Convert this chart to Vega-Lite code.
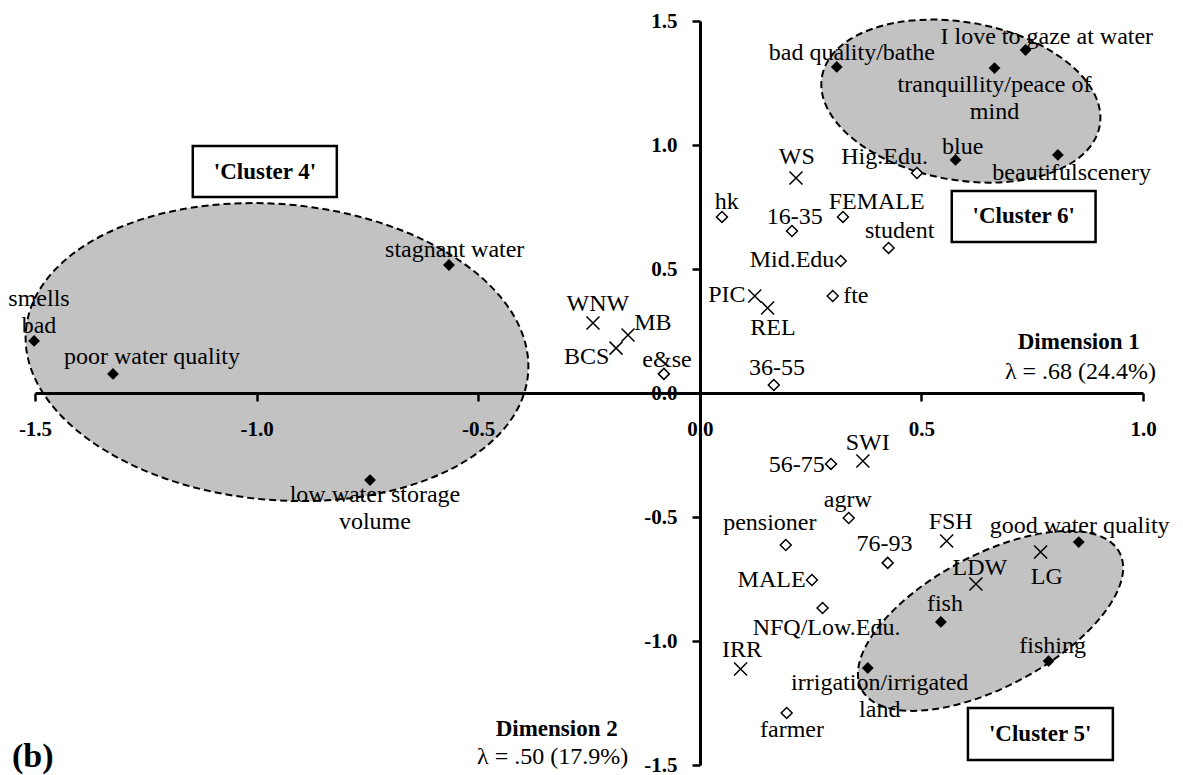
{
  "$schema": "https://vega.github.io/schema/vega-lite/v6.json",
  "width": 1108,
  "height": 744,
  "autosize": {"type": "none"},
  "padding": {"left": 35, "top": 21, "right": 40, "bottom": 10},
  "background": "white",
  "config": {"view": {"stroke": null}},
  "datasets": {
    "points": [
      {"name": "bad quality/bathe", "group": "word", "x": 0.309, "y": 1.315, "lx": 0.343, "ly": 1.371},
      {"name": "I love to gaze at water", "group": "word", "x": 0.735, "y": 1.383, "lx": 0.783, "ly": 1.435},
      {"name": "tranquillity/peace of\nmind", "group": "word", "x": 0.665, "y": 1.31, "lx": 0.665, "ly": 1.242},
      {"name": "blue", "group": "word", "x": 0.577, "y": 0.94, "lx": 0.593, "ly": 0.992},
      {"name": "beautifulscenery", "group": "word", "x": 0.808, "y": 0.96, "lx": 0.839, "ly": 0.887},
      {"name": "smells\nbad", "group": "word", "x": -1.502, "y": 0.21, "lx": -1.491, "ly": 0.379},
      {"name": "poor water quality", "group": "word", "x": -1.324, "y": 0.077, "lx": -1.236, "ly": 0.145},
      {"name": "stagnant water", "group": "word", "x": -0.566, "y": 0.516, "lx": -0.553, "ly": 0.577},
      {"name": "low water storage\nvolume", "group": "word", "x": -0.744, "y": -0.351, "lx": -0.733, "ly": -0.411},
      {"name": "good water quality", "group": "word", "x": 0.855, "y": -0.601, "lx": 0.857, "ly": -0.536},
      {"name": "fish", "group": "word", "x": 0.544, "y": -0.923, "lx": 0.553, "ly": -0.851},
      {"name": "fishing", "group": "word", "x": 0.787, "y": -1.081, "lx": 0.796, "ly": -1.02},
      {"name": "irrigation/irrigated\nland", "group": "word", "x": 0.379, "y": -1.109, "lx": 0.406, "ly": -1.169},
      {"name": "hk", "group": "respondent", "x": 0.05, "y": 0.71, "lx": 0.061, "ly": 0.77},
      {"name": "16-35", "group": "respondent", "x": 0.208, "y": 0.653, "lx": 0.214, "ly": 0.71},
      {"name": "FEMALE", "group": "respondent", "x": 0.323, "y": 0.71, "lx": 0.399, "ly": 0.77},
      {"name": "Hig.Edu.", "group": "respondent", "x": 0.49, "y": 0.887, "lx": 0.417, "ly": 0.952},
      {"name": "student", "group": "respondent", "x": 0.426, "y": 0.585, "lx": 0.451, "ly": 0.653},
      {"name": "Mid.Edu", "group": "respondent", "x": 0.318, "y": 0.532, "lx": 0.208, "ly": 0.536},
      {"name": "fte", "group": "respondent", "x": 0.3, "y": 0.391, "lx": 0.352, "ly": 0.391},
      {"name": "e&se", "group": "respondent", "x": -0.081, "y": 0.077, "lx": -0.074, "ly": 0.133},
      {"name": "36-55", "group": "respondent", "x": 0.167, "y": 0.032, "lx": 0.174, "ly": 0.101},
      {"name": "56-75", "group": "respondent", "x": 0.296, "y": -0.286, "lx": 0.219, "ly": -0.29},
      {"name": "agrw", "group": "respondent", "x": 0.336, "y": -0.504, "lx": 0.334, "ly": -0.431},
      {"name": "pensioner", "group": "respondent", "x": 0.194, "y": -0.613, "lx": 0.158, "ly": -0.524},
      {"name": "76-93", "group": "respondent", "x": 0.424, "y": -0.685, "lx": 0.417, "ly": -0.609},
      {"name": "MALE", "group": "respondent", "x": 0.253, "y": -0.754, "lx": 0.162, "ly": -0.754},
      {"name": "NFQ/Low.Edu.", "group": "respondent", "x": 0.277, "y": -0.867, "lx": 0.286, "ly": -0.948},
      {"name": "farmer", "group": "respondent", "x": 0.196, "y": -1.29, "lx": 0.208, "ly": -1.359},
      {"name": "WS", "group": "use", "x": 0.217, "y": 0.867, "lx": 0.219, "ly": 0.952},
      {"name": "PIC", "group": "use", "x": 0.124, "y": 0.391, "lx": 0.061, "ly": 0.395},
      {"name": "REL", "group": "use", "x": 0.153, "y": 0.343, "lx": 0.165, "ly": 0.262},
      {"name": "WNW", "group": "use", "x": -0.241, "y": 0.282, "lx": -0.23, "ly": 0.359},
      {"name": "MB", "group": "use", "x": -0.162, "y": 0.234, "lx": -0.106, "ly": 0.282},
      {"name": "BCS", "group": "use", "x": -0.189, "y": 0.181, "lx": -0.255, "ly": 0.145},
      {"name": "SWI", "group": "use", "x": 0.368, "y": -0.274, "lx": 0.379, "ly": -0.202},
      {"name": "FSH", "group": "use", "x": 0.557, "y": -0.597, "lx": 0.566, "ly": -0.52},
      {"name": "LG", "group": "use", "x": 0.769, "y": -0.641, "lx": 0.783, "ly": -0.742},
      {"name": "LDW", "group": "use", "x": 0.623, "y": -0.77, "lx": 0.632, "ly": -0.706},
      {"name": "IRR", "group": "use", "x": 0.092, "y": -1.113, "lx": 0.095, "ly": -1.036}
    ],
    "ellipses": [
      {"cluster": "Cluster 4", "x": -0.954, "y": 0.165},
      {"cluster": "Cluster 6", "x": 0.589, "y": 1.177},
      {"cluster": "Cluster 5", "x": 0.656, "y": -0.919}
    ],
    "boxes": [
      {"cluster": "Cluster 4", "x": -1.144, "x2": -0.819, "y": 0.996, "y2": 0.79},
      {"cluster": "Cluster 6", "x": 0.5685, "x2": 0.893, "y": 0.815, "y2": 0.609},
      {"cluster": "Cluster 5", "x": 0.605, "x2": 0.932, "y": -1.27, "y2": -1.48}
    ],
    "notes": [
      {"text": "'Cluster 4'", "kind": "bold", "x": -0.981, "y": 0.893},
      {"text": "'Cluster 6'", "kind": "bold", "x": 0.731, "y": 0.712},
      {"text": "'Cluster 5'", "kind": "bold", "x": 0.768, "y": -1.375},
      {"text": "Dimension 1", "kind": "bold", "x": 0.855, "y": 0.206},
      {"text": "Dimension 2", "kind": "bold", "x": -0.323, "y": -1.355},
      {"text": "λ = .68 (24.4%)", "kind": "regular", "x": 0.859, "y": 0.085},
      {"text": "λ = .50 (17.9%)", "kind": "regular", "x": -0.332, "y": -1.468},
      {"text": "(b)", "kind": "big", "x": -1.505, "y": -1.468}
    ]
  },
  "encoding": {
    "x": {"field": "x", "type": "quantitative",
      "scale": {"domain": [-1.5, 1.0], "nice": false, "zero": false},
      "axis": {"title": null, "values": [-1.5, -1, -0.5, 0, 0.5, 1], "labelExpr": "(datum.value < 0 ? '-' : '') + format(abs(datum.value), '.1f')", "offset": -372, "zindex": 1, "grid": false,
        "domainColor": "black", "domainWidth": 3, "tickColor": "black", "tickWidth": 2.5, "tickSize": 8,
        "labelFont": "Liberation Serif", "labelFontSize": 21, "labelFontWeight": "bold", "labelColor": "black",
        "labelPadding": 17, "labelFlush": false, "labelOverlap": false}},
    "y": {"field": "y", "type": "quantitative",
      "scale": {"domain": [-1.5, 1.5], "nice": false, "zero": false},
      "axis": {"title": null, "values": [-1.5, -1, -0.5, 0, 0.5, 1, 1.5], "labelExpr": "(datum.value < 0 ? '-' : '') + format(abs(datum.value), '.1f')", "offset": -665, "zindex": 1, "grid": false,
        "domainColor": "black", "domainWidth": 3, "tickColor": "black", "tickWidth": 2.5, "tickSize": 8,
        "labelFont": "Liberation Serif", "labelFontSize": 21, "labelFontWeight": "bold", "labelColor": "black",
        "labelPadding": 15, "labelFlush": false, "labelOverlap": false}}
  },
  "layer": [
    {
      "data": {"name": "ellipses"},
      "transform": [{"filter": "datum.cluster == 'Cluster 4'"}],
      "mark": {"type": "point", "shape": "M-1,0A1,0.587,0,1,1,1,0A1,0.587,0,1,1,-1,0Z", "size": 254016, "angle": 5, "filled": true,
        "fill": "#c2c2c2", "stroke": "black", "strokeWidth": 2, "strokeDash": [7, 4], "opacity": 1}
    },
    {
      "data": {"name": "ellipses"},
      "transform": [{"filter": "datum.cluster == 'Cluster 6'"}],
      "mark": {"type": "point", "shape": "M-1,0A1,0.56,0,1,1,1,0A1,0.56,0,1,1,-1,0Z", "size": 79524, "angle": 10, "filled": true,
        "fill": "#c2c2c2", "stroke": "black", "strokeWidth": 2, "strokeDash": [7, 4], "opacity": 1}
    },
    {
      "data": {"name": "ellipses"},
      "transform": [{"filter": "datum.cluster == 'Cluster 5'"}],
      "mark": {"type": "point", "shape": "M-1,0A1,0.452,0,1,1,1,0A1,0.452,0,1,1,-1,0Z", "size": 85264, "angle": -28, "filled": true,
        "fill": "#c2c2c2", "stroke": "black", "strokeWidth": 2, "strokeDash": [7, 4], "opacity": 1}
    },
    {
      "data": {"name": "boxes"},
      "mark": {"type": "rect", "fill": "white", "stroke": "black", "strokeWidth": 2.5},
      "encoding": {
        "x2": {"field": "x2"},
        "y2": {"field": "y2"}
      }
    },
    {
      "data": {"name": "points"},
      "transform": [{"filter": "datum.group == 'word'"}],
      "mark": {"type": "point", "shape": "diamond", "filled": true, "color": "black", "size": 140, "opacity": 1}
    },
    {
      "data": {"name": "points"},
      "transform": [{"filter": "datum.group == 'respondent'"}],
      "mark": {"type": "point", "shape": "diamond", "filled": true, "fill": "white", "stroke": "black", "strokeWidth": 1.5, "size": 120, "opacity": 1}
    },
    {
      "data": {"name": "points"},
      "transform": [{"filter": "datum.group == 'use'"}],
      "mark": {"type": "point", "shape": "M-1,-1L1,1M-1,1L1,-1", "filled": false, "stroke": "black", "strokeWidth": 1.5, "size": 169, "opacity": 1}
    },
    {
      "data": {"name": "points"},
      "mark": {"type": "text", "font": "Liberation Serif", "fontSize": 24, "color": "black", "align": "center", "baseline": "middle", "lineBreak": "\n", "lineHeight": 27},
      "encoding": {
        "x": {"field": "lx", "type": "quantitative",
          "scale": {"domain": [-1.5, 1.0], "nice": false, "zero": false},
          "axis": {"title": null, "values": [-1.5, -1, -0.5, 0, 0.5, 1], "labelExpr": "(datum.value < 0 ? '-' : '') + format(abs(datum.value), '.1f')", "offset": -372, "zindex": 1, "grid": false,
            "domainColor": "black", "domainWidth": 3, "tickColor": "black", "tickWidth": 2.5, "tickSize": 8,
            "labelFont": "Liberation Serif", "labelFontSize": 21, "labelFontWeight": "bold", "labelColor": "black",
            "labelPadding": 17, "labelFlush": false, "labelOverlap": false}},
        "y": {"field": "ly", "type": "quantitative",
          "scale": {"domain": [-1.5, 1.5], "nice": false, "zero": false},
          "axis": {"title": null, "values": [-1.5, -1, -0.5, 0, 0.5, 1, 1.5], "labelExpr": "(datum.value < 0 ? '-' : '') + format(abs(datum.value), '.1f')", "offset": -665, "zindex": 1, "grid": false,
            "domainColor": "black", "domainWidth": 3, "tickColor": "black", "tickWidth": 2.5, "tickSize": 8,
            "labelFont": "Liberation Serif", "labelFontSize": 21, "labelFontWeight": "bold", "labelColor": "black",
            "labelPadding": 15, "labelFlush": false, "labelOverlap": false}},
        "text": {"field": "name"}
      }
    },
    {
      "data": {"name": "notes"},
      "transform": [{"filter": "datum.kind == 'bold'"}],
      "mark": {"type": "text", "font": "Liberation Serif", "fontSize": 23, "fontWeight": "bold", "color": "black", "align": "center", "baseline": "middle"},
      "encoding": {"text": {"field": "text"}}
    },
    {
      "data": {"name": "notes"},
      "transform": [{"filter": "datum.kind == 'regular'"}],
      "mark": {"type": "text", "font": "Liberation Serif", "fontSize": 24, "color": "black", "align": "center", "baseline": "middle"},
      "encoding": {"text": {"field": "text"}}
    },
    {
      "data": {"name": "notes"},
      "transform": [{"filter": "datum.kind == 'big'"}],
      "mark": {"type": "text", "font": "Liberation Serif", "fontSize": 34, "fontWeight": "bold", "color": "black", "align": "center", "baseline": "middle"},
      "encoding": {"text": {"field": "text"}}
    }
  ]
}
